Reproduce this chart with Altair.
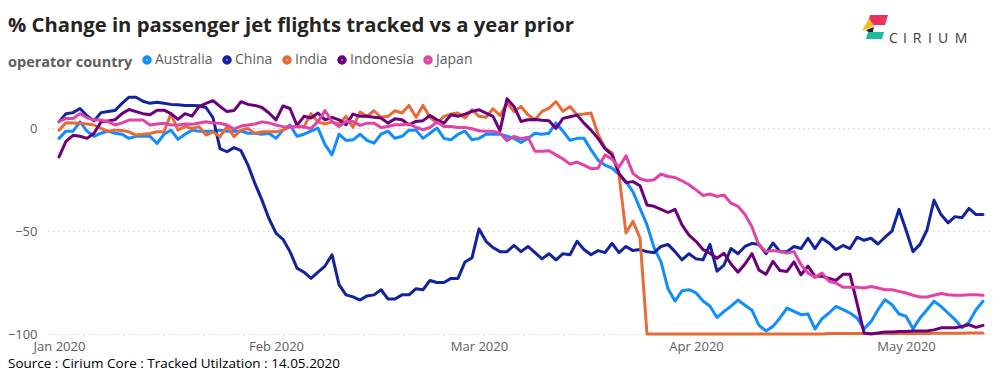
import altair as alt
import pandas as pd

FONT = "Open Sans"

countries = ["Australia", "China", "India", "Indonesia", "Japan"]
colors = ["#118DFF", "#12239E", "#E66C37", "#6B007B", "#E044A7"]
dates = pd.date_range("2020-01-01", "2020-05-12", freq="D")
month_ticks = [1, 2, 3, 4, 5]
y_ticks = [0, -50, -100]

australia = [
    -5, -1.5, -1.5, 3, -1.5, -4, -2.5, -1.5, -2.5, -3,
    -5, -4, -4, -4, -7.5, -3, -1, -5.5, -3, -1,
    -1.5, -1.5, -1.5, -1, -1.5, -1.5, -1.5, -2.5, -2.5, -3,
    -2.5, -5, -1, 1.5, -4, -3, -1.5, 0, -8, -13,
    -3, -6, -5.7, -3, -6, -7.3, -3, -1.5, -5, -4,
    -1, -1, -5, -2.5, 0, -5, -5.7, -3, -1.5, -5.7,
    -5, -3, -3, -3, -4, -5, -7, -5, -2.5, -3,
    -2.5, 2.5, -1.5, -6, -5, -5, -10.5, -15.5, -18, -19.5,
    -22.5, -26, -31, -39, -47, -58, -65, -78, -84, -79,
    -78.5, -80, -84, -86.5, -92, -89, -86.5, -83.5, -86, -88.5,
    -95.8, -98.5, -96.3, -92.2, -87.4, -89, -90.6, -90.3, -97.5, -92.6,
    -89.8, -86.6, -88.2, -89.8, -92.2, -97.5, -94, -88.2, -83.3, -85.8,
    -90.3, -91.4, -97.5, -92.2, -88.2, -84.1, -86.6, -89.8, -93, -97,
    -94.2, -88.2, -84.1,
]

china = [
    3, 7, 7.5, 9.5, 6, 3.5, 7.5, 8, 8.5, 12,
    15, 15, 13, 12, 12.5, 12, 11.5, 11.3, 11, 11,
    10.8, 10, 5, -10, -11.5, -9.5, -11, -18, -27, -35,
    -44, -51, -54, -60, -68, -70, -73, -70, -67, -61.5,
    -76, -81, -82, -83.5, -81.5, -81, -78.5, -83, -83, -81,
    -81, -78, -78.5, -74, -75, -75, -73, -73, -65, -63,
    -49, -55, -58, -60, -60, -57, -60, -57.5, -60.5, -63.5,
    -61, -64, -61, -61.5, -55, -59, -61.5, -59.5, -60.5, -56,
    -60.5, -57.5, -59.5, -59, -60, -60.5, -57.5, -56.5, -60, -64,
    -61, -63.5, -64, -56.5, -69.5, -66.5, -58.5, -61, -57.5, -56,
    -56.5, -61, -55.8, -60, -60, -57.5, -58.5, -53.5, -58.5, -53.5,
    -55.8, -59, -57, -58.5, -53, -54.5, -53.5, -56.3, -53, -50,
    -39.5, -49.5, -60, -56.5, -49.5, -35, -42, -46, -43, -43.5,
    -39, -42, -42,
]

india = [
    -1, 2.6, 2.5, 2.3, 2, 1.5, -0.2, -1.5, -1, -1.2,
    -1.8, -3.4, -3, -2.6, -1.8, -1.8, 7, -1, 0.7, -0.2,
    0.7, -3.4, -1.8, -4.2, 0.7, -4.2, -1, -0.2, -2.6, -1.8,
    -1.8, -1.8, -1, 0.7, 0.7, 0.7, 7, 3, 2, 3,
    1.9, 5.7, 0.3, 7.8, 5.7, 8.4, 5.2, 5.7, 8.4, 7.3,
    11, 5.2, 11, 5.2, 2.4, 5.7, 6.8, 7.3, 4.9, 8.9,
    5.7, 5.2, 9.4, 6.1, 12.1, 8, 10.5, 6.5, 4, 8.1,
    9.7, 12.9, 8.1, 10.5, 6.5, 6.8, 7.3, -3, -9.7, -12.1,
    -22.7, -51, -45.3, -53.4, -100, -100, -100, -100, -100, -100,
    -100, -100, -100, -100, -100, -100, -100, -100, -100, -100,
    -100, -100, -100, -100, -100, -100, -100, -100, -100, -100,
    -99.8, -99.8, -99.8, -99.8, -99.8, -99.8, -99.8, -99.8, -99.8, -99.8,
    -99.7, -99.7, -99.7, -99.7, -99.7, -99.6, -99.6, -99.6, -99.6, -99.6,
    -99.5, -99.5, -99.5,
]

indonesia = [
    -14, -6.5, -3.5, -4, -5, -2.5, 3, 3.5, 4, 7,
    9, 8, 7, 6.5, 8.7, 8.7, 7, 4.2, 7, 5.8,
    10.4, 12, 13.3, 10.5, 8, 8.5, 12.8, 11.5, 11, 10,
    7.3, 4, 10.7, 9.5, 1.3, 5.7, 4.9, 7.3, 4, 5.2,
    4, 1.6, 6.8, 5.7, 5.7, 5.2, 4.9, 2.4, 4.5, 4,
    1.6, 3.2, 3.6, 6.1, 4, 2.4, 6.5, 5.7, 6.8, 8.1,
    8.9, 7.3, 5.7, -1.3, 14.2, 10.5, 3.2, 4, 4.2, 3.8,
    3.6, -0.2, 4.7, 5.5, 6.3, 2.4, -1, -5, -10, -13,
    -22, -26.5, -26, -28, -37.4, -38, -39.5, -41, -39.5, -47,
    -52, -55, -59, -60.8, -63.2, -60.8, -66, -70, -66, -61,
    -69, -71, -64.7, -69.2, -69.6, -65, -71.2, -67, -72, -72,
    -73, -74, -71, -71, -85, -99.5, -100, -99.5, -99, -99,
    -98.8, -98.8, -98.5, -98.5, -98.5, -98, -97, -97, -97, -96.3,
    -95.5, -96.8, -95.8,
]

japan = [
    3.1, 4.7, 4.7, 7, 5, 4, 3.9, 3.1, 1.5, 2.5,
    3.9, 3.9, 3.9, 1.5, 2, 2.3, 1.5, 1.5, 2, 1.8,
    2.5, 3.1, 2.5, 2.3, 1.5, -0.5, 1, 1.5, 2, 3,
    2.5, 1.5, 0.7, 0.5, 0.7, 0.5, -0.2, 3.1, 8.5, 3.2,
    0.8, 3.2, 3.2, 1.3, 2.4, 2.4, 0.3, 0.8, 1.6, 1.6,
    2, 0.3, -0.8, 0.3, 2.9, 0.8, 0.8, 0.3, 0.3, -0.3,
    -1.3, -1.6, -1.6, -2.4, -6.1, -4, -5.2, -4.5, -11.3, -11.3,
    -11, -13, -15, -17.5, -16.5, -18, -19.7, -19.5, -13, -15,
    -19, -13.5, -22, -24.6, -25.6, -25.1, -22.3, -23.5, -24, -25.6,
    -27.5, -30, -32.7, -32, -33.2, -32.5, -36.5, -38, -42, -48,
    -57, -60, -59.5, -60, -60.7, -60, -66.4, -70.4, -72.5, -70.4,
    -74.4, -75.2, -77.3, -77.3, -77.3, -77.7, -76.9, -77.7, -78.5, -78.5,
    -79.3, -80.1, -81.2, -82, -82, -81.2, -80.3, -80.9, -81.2, -81.2,
    -80.9, -80.9, -81.2,
]

series = [australia, china, india, indonesia, japan]
rows = []
for name, vals in zip(countries, series):
    assert len(vals) == len(dates), (name, len(vals))
    for d, v in zip(dates, vals):
        rows.append({"date": d.strftime("%Y-%m-%dT%H:%M:%S"), "country": name, "change": v})
df = pd.DataFrame(rows)

x_domain = [
    alt.DateTime(year=2019, month=12, date=30, hours=10, minutes=17),
    alt.DateTime(year=2020, month=5, date=13),
]

lines = alt.Chart(df).mark_line(strokeWidth=3, strokeJoin="round", strokeCap="round").encode(
    x=alt.X(
        "date:T",
        scale=alt.Scale(domain=x_domain),
        axis=alt.Axis(
            values=[alt.DateTime(year=2020, month=m, date=1) for m in month_ticks],
            format="%b %Y", title=None, grid=False, domain=False, ticks=False,
            labelPadding=6, labelFontSize=13, labelColor="#605E5C", labelFont=FONT,
            labelFlush=False, labelOverlap=False,
        ),
    ),
    y=alt.Y(
        "change:Q",
        scale=alt.Scale(domain=[-100, 18], nice=False, zero=False),
        axis=alt.Axis(
            values=y_ticks, title=None, domain=False, ticks=False,
            gridDash=[1, 4], gridColor="#B8B8B8", gridWidth=1,
            labelPadding=11, labelFontSize=13, labelColor="#605E5C", labelFont=FONT,
        ),
    ),
    color=alt.Color(
        "country:N",
        scale=alt.Scale(domain=countries, range=colors),
        legend=alt.Legend(
            orient="none", legendX=-40, legendY=-38, direction="horizontal",
            title="operator country", titleOrient="left", titleFont=FONT,
            titleFontSize=14.5, titleFontWeight="bold", titleColor="#605E5C",
            titlePadding=7, labelFont=FONT, labelFontSize=14, labelColor="#605E5C",
            symbolType="circle", symbolSize=16, symbolStrokeWidth=5.5,
            labelOffset=1, columnPadding=1,
        ),
    ),
)

one = alt.Data(values=[{}])


def text_layer(text, x, y, size, weight="normal", color="#000000", font=FONT, align="left"):
    return alt.Chart(one).mark_text(
        text=text, align=align, baseline="alphabetic", fontSize=size,
        fontWeight=weight, color=color, font=font,
    ).encode(x=alt.value(x), y=alt.value(y))


title = text_layer("% Change in passenger jet flights tracked vs a year prior", -40, -59, 20.25, "bold", "#252423")
source = text_layer("Source : Cirium Core : Tracked Utilzation : 14.05.2020", -40, 276.5, 13.5, "normal", "#000000", FONT)

logo_letters = ["C", "I", "R", "I", "U", "M"]
logo_x = [845.5, 857, 869, 882, 895, 913]
logo = [text_layer(ch, lx, -48, 14, "normal", "#3C3C3C", FONT, "center") for ch, lx in zip(logo_letters, logo_x)]


def shape_layer(path, color, x, y, size):
    return alt.Chart(one).mark_point(shape=path, filled=True, color=color, size=size, opacity=1, strokeWidth=0).encode(
        x=alt.value(x), y=alt.value(y))


icon = [
    shape_layer("M -0.38 -0.92 L 1 -0.92 L 0.77 -0.15 L -0.62 -0.15 Z", "#E8335D", 827, -64, 676),
    shape_layer("M -1 0.31 L -0.46 -0.69 L -0.08 -0.08 Z", "#F7B924", 827, -64, 676),
    shape_layer("M -0.69 0.23 L -0.08 0 L -0.23 0.62 Z", "#222222", 827, -64, 676),
    shape_layer("M -0.54 0.38 L 0.69 0.38 L 0.54 0.92 L -0.69 0.92 Z", "#1ABC9C", 827, -64, 676),
]

chart = alt.layer(lines, title, source, *logo, *icon).properties(
    width=942, height=243,
    padding={"left": 40, "top": 83, "right": 2, "bottom": 38},
    autosize=alt.AutoSizeParams(type="none"),
    background="white",
).configure_view(stroke=None)

chart.save("out.html", embed_options={"renderer": "svg", "actions": False})
